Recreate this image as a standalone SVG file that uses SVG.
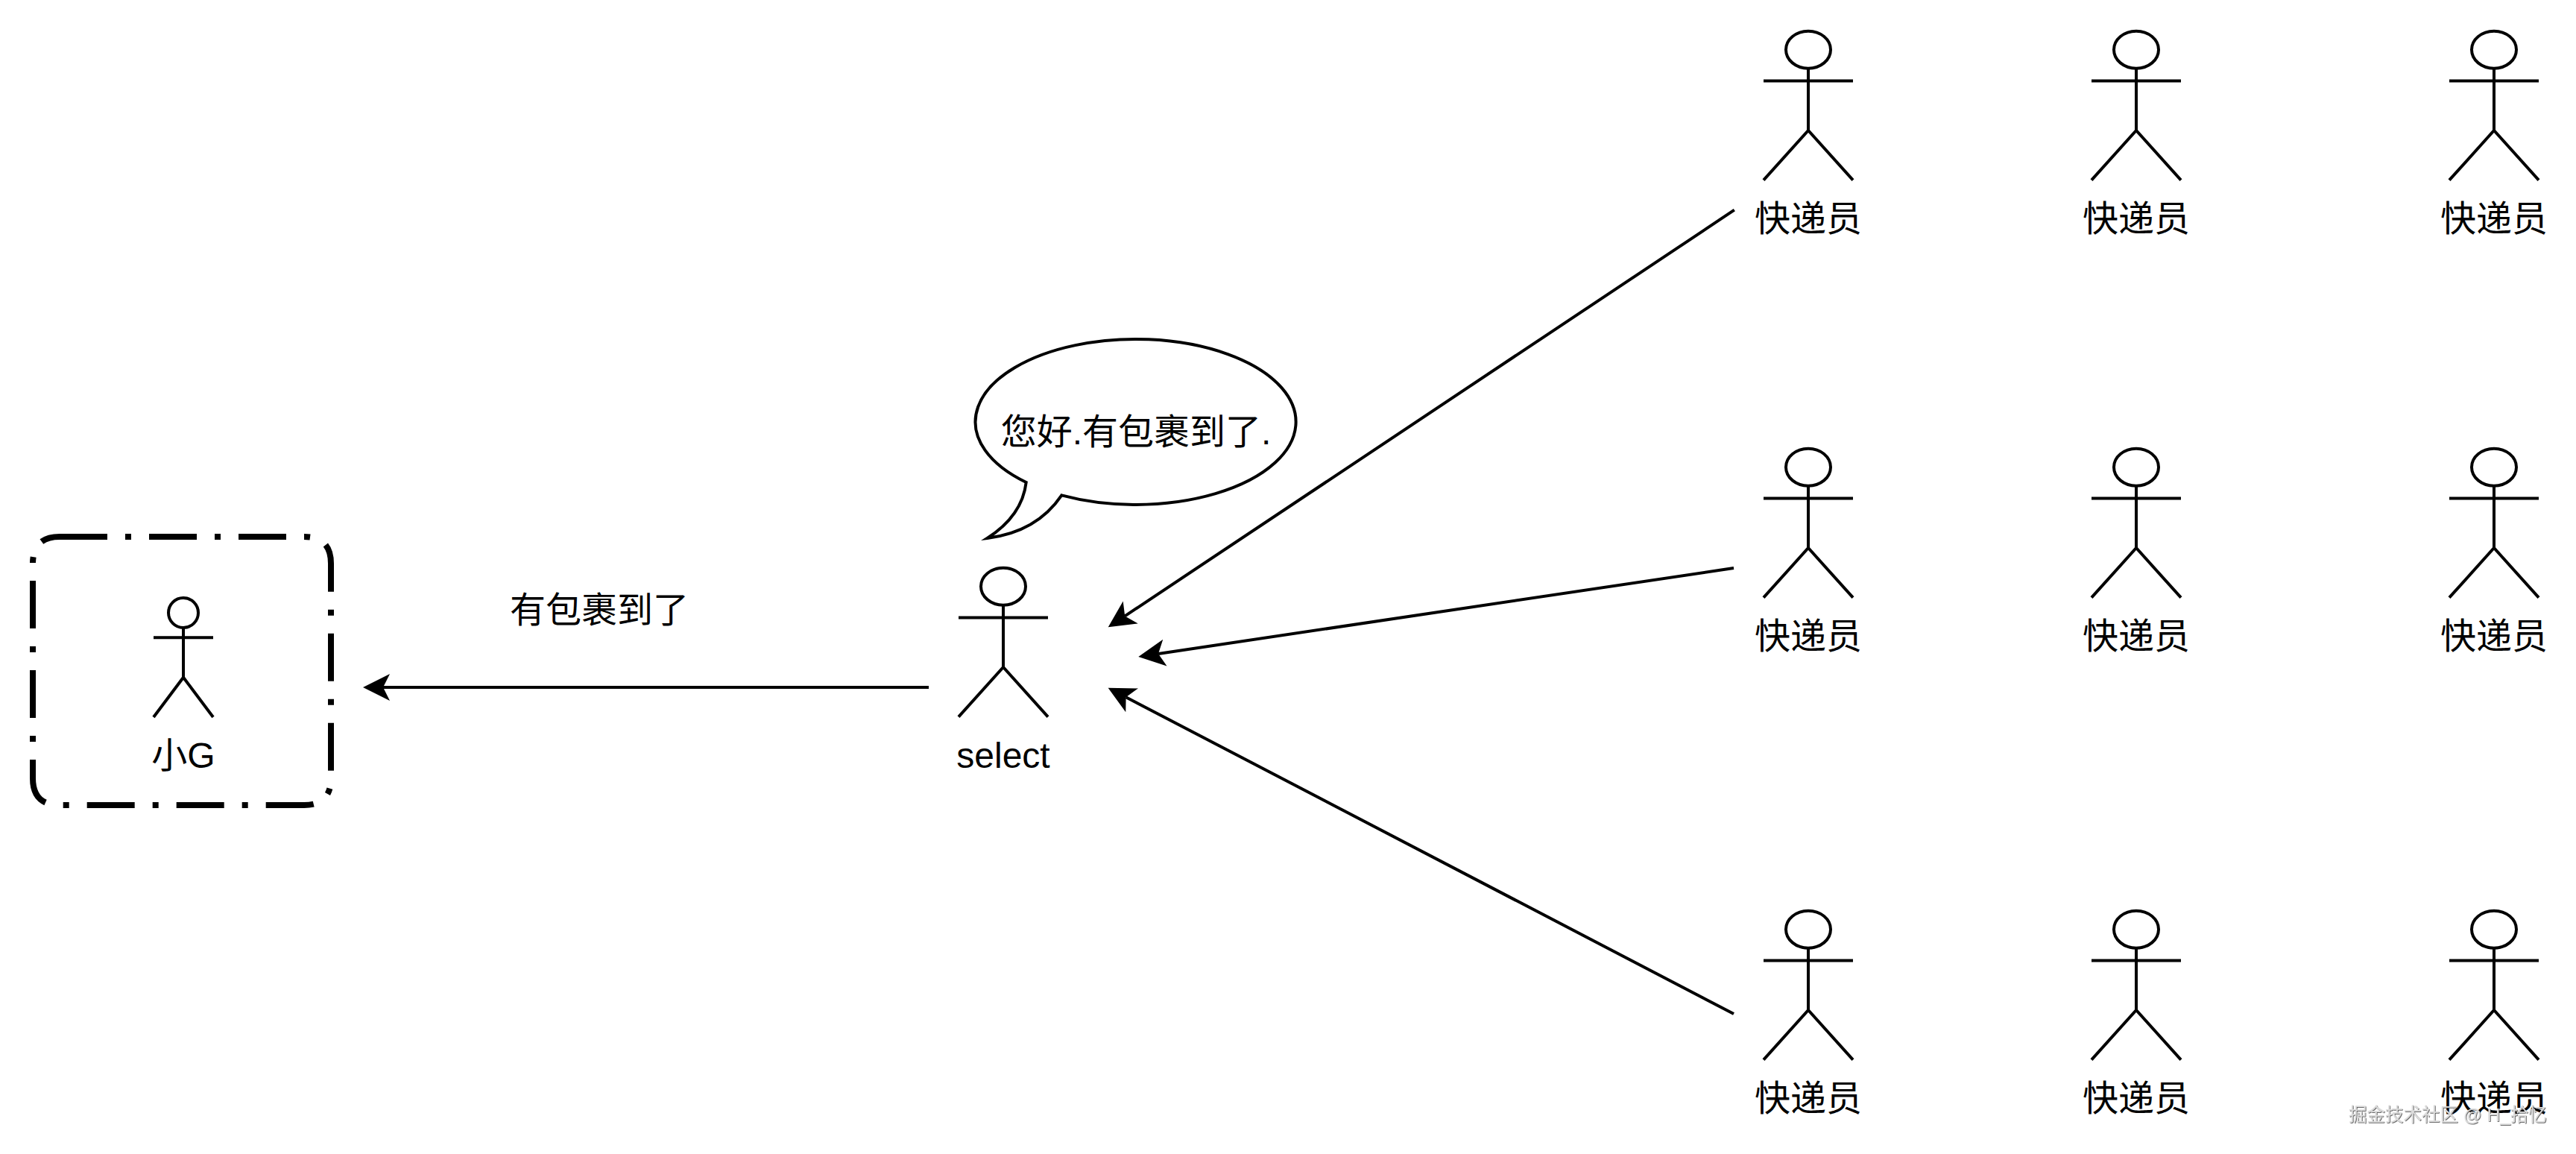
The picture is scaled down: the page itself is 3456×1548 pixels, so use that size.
<svg xmlns="http://www.w3.org/2000/svg" width="3456" height="1548" viewBox="0 0 3456 1548">
<style>
.s{fill:none;stroke:#000;stroke-width:4;stroke-miterlimit:10}
.h{fill:#fff;stroke:#000;stroke-width:4}
.t{font-family:"Liberation Sans","Noto Sans CJK SC",sans-serif;font-size:48px;fill:#000;text-anchor:middle}
.c{fill:none;stroke:#000;stroke-width:4;marker-end:url(#arrow)}
.wm{font-family:"Liberation Sans","Noto Sans CJK SC",sans-serif;font-size:24.5px;fill:#dcdcdc;filter:url(#shadow)}
</style>
<defs>
<marker id="arrow" markerUnits="userSpaceOnUse" markerWidth="40" markerHeight="40" viewBox="0 0 40 40" refX="9" refY="20" orient="auto">
<path d="M36 20L0 2L9 20L0 38Z" fill="#000"/>
</marker>
<filter id="shadow" x="-5%" y="-30%" width="110%" height="160%">
<feDropShadow dx="0.8" dy="0.8" stdDeviation="0.6" flood-color="#444"/>
</filter>
<g id="actor">
<ellipse class="h" cx="0" cy="25" rx="30" ry="25"/>
<path class="s" d="M0 50V133.3M-60 66.7H60M-60 200L0 133.3L60 200"/>
</g>
</defs>
<rect width="3456" height="1548" fill="#fff"/>
<g id="connectors">
<path class="c" d="M1246 922H514"/>
<path class="c" d="M2326.8 281.7L1509.2 826.4"/>
<path class="c" d="M2326 762L1554 877"/>
<path class="c" d="M2326 1360L1510.6 935.2"/>
</g>
<g id="box"><path d="M80 720H408Q444 720 444 756V1044Q444 1080 408 1080H80Q44 1080 44 1044V756Q44 720 80 720Z" fill="none" stroke="#000" stroke-width="8" stroke-dasharray="64 24 8 24"/></g>
<g id="xiaog">
<ellipse class="h" cx="246" cy="822" rx="20" ry="20"/>
<path class="s" d="M246 842V908.7M206 855.3H286M206 962L246 908.7L286 962"/>
<text class="t" x="246" y="1030">小G</text>
</g>
<g id="select"><use href="#actor" x="1346" y="761.7"/><text class="t" x="1346" y="1030">select</text></g>
<g id="bubble">
<path d="M1376.7 647A215 111 0 1 1 1424.3 664.4Q1391 713.7 1324.5 722Q1371.5 691.75 1376.7 647Z" fill="#fff" stroke="#000" stroke-width="4" stroke-miterlimit="10"/>
<text class="t" x="1524" y="596">您好.有包裹到了.</text>
</g>
<g id="edge-label"><text class="t" x="804" y="835">有包裹到了</text></g>
<g id="courier-1-1"><use href="#actor" x="2426" y="41.7"/><text class="t" x="2426" y="310">快递员</text></g>
<g id="courier-1-2"><use href="#actor" x="2866" y="41.7"/><text class="t" x="2866" y="310">快递员</text></g>
<g id="courier-1-3"><use href="#actor" x="3346" y="41.7"/><text class="t" x="3346" y="310">快递员</text></g>
<g id="courier-2-1"><use href="#actor" x="2426" y="601.7"/><text class="t" x="2426" y="870">快递员</text></g>
<g id="courier-2-2"><use href="#actor" x="2866" y="601.7"/><text class="t" x="2866" y="870">快递员</text></g>
<g id="courier-2-3"><use href="#actor" x="3346" y="601.7"/><text class="t" x="3346" y="870">快递员</text></g>
<g id="courier-3-1"><use href="#actor" x="2426" y="1221.7"/><text class="t" x="2426" y="1490">快递员</text></g>
<g id="courier-3-2"><use href="#actor" x="2866" y="1221.7"/><text class="t" x="2866" y="1490">快递员</text></g>
<g id="courier-3-3"><use href="#actor" x="3346" y="1221.7"/><text class="t" x="3346" y="1490">快递员</text></g>
<text class="wm" x="3151" y="1504">掘金技术社区 @ H_拾忆</text>
</svg>
